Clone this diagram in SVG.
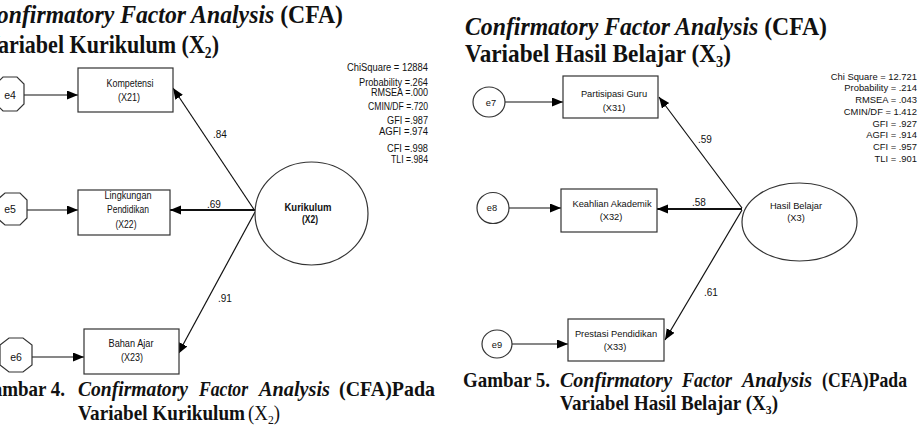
<svg xmlns="http://www.w3.org/2000/svg" width="918" height="438" viewBox="0 0 918 438">
<style>
.title{font-family:"Liberation Serif",serif;font-weight:bold;font-size:26px;fill:#111}
.cap{font-family:"Liberation Serif",serif;font-weight:bold;font-size:21px;fill:#111}
.it{font-style:italic}
.nb{font-weight:normal}
.lt{font-family:"Liberation Sans",sans-serif;font-size:10.5px;fill:#111;text-anchor:middle}
.st{font-family:"Liberation Sans",sans-serif;font-size:10px;fill:#111;text-anchor:end}
.rt{font-family:"Liberation Sans",sans-serif;font-size:9.3px;fill:#111;text-anchor:middle}
.rs{font-family:"Liberation Sans",sans-serif;font-size:9.4px;fill:#111;text-anchor:end}
.coef{font-family:"Liberation Sans",sans-serif;font-size:10px;fill:#111}
.box{fill:#fff;stroke:#333;stroke-width:1.2}
.ln{stroke:#111;stroke-width:1.2;fill:none}
.thk{stroke:#111;stroke-width:2;fill:none}
</style>
<defs>
<marker id="ah" markerUnits="userSpaceOnUse" markerWidth="12" markerHeight="10" refX="11" refY="4.5" orient="auto">
<path d="M0,0 L11,4.5 L0,9 z" fill="#000"/>
</marker>
</defs>

<!-- Titles -->
<g id="title-left">
<text class="title" x="-19" y="23" textLength="362" lengthAdjust="spacingAndGlyphs"><tspan class="it">Confirmatory Factor Analysis</tspan> (CFA)</text>
<text class="title" x="-16" y="53" textLength="235" lengthAdjust="spacingAndGlyphs">Variabel Kurikulum (X<tspan font-size="16" dy="5">2</tspan><tspan dy="-5">)</tspan></text>
</g>
<g id="title-right">
<text class="title" x="465" y="35" textLength="362" lengthAdjust="spacingAndGlyphs"><tspan class="it">Confirmatory Factor Analysis</tspan> (CFA)</text>
<text class="title" x="465" y="62" textLength="266" lengthAdjust="spacingAndGlyphs">Variabel Hasil Belajar (X<tspan font-size="16" dy="5">3</tspan><tspan dy="-5">)</tspan></text>
</g>

<!-- Connectors -->
<g id="connectors">
<line class="ln" x1="24" y1="95" x2="78" y2="95" marker-end="url(#ah)"/>
<line class="ln" x1="27" y1="210" x2="78" y2="210" marker-end="url(#ah)"/>
<line class="ln" x1="32" y1="357" x2="84" y2="357" marker-end="url(#ah)"/>
<line class="ln" x1="255" y1="211" x2="173" y2="88" marker-end="url(#ah)"/>
<line class="thk" x1="255" y1="210" x2="170" y2="210" marker-end="url(#ah)"/>
<line class="ln" x1="255" y1="212" x2="178" y2="354" marker-end="url(#ah)"/>
<line class="ln" x1="505" y1="102" x2="563" y2="102" marker-end="url(#ah)"/>
<line class="ln" x1="509" y1="208" x2="561" y2="208" marker-end="url(#ah)"/>
<line class="ln" x1="512" y1="344" x2="568" y2="344" marker-end="url(#ah)"/>
<line class="ln" x1="742" y1="208" x2="659" y2="97" marker-end="url(#ah)"/>
<line class="thk" x1="742" y1="209" x2="657" y2="209" marker-end="url(#ah)"/>
<line class="ln" x1="742" y1="210" x2="665" y2="340" marker-end="url(#ah)"/>
<text class="coef" x="213" y="138">.84</text>
<text class="coef" x="207" y="208">.69</text>
<text class="coef" x="218" y="302">.91</text>
<text class="coef" x="698" y="143">.59</text>
<text class="coef" x="692" y="206">.58</text>
<text class="coef" x="704" y="296">.61</text>
</g>

<!-- Left nodes -->
<g id="e4">
<polygon class="box" points="3,77 17,77 24,84 24,104 17,111 3,111 -4,104 -4,84"/>
<text class="lt" x="10" y="99">e4</text>
</g>
<g id="e5">
<polygon class="box" points="5,193 20,193 27,200 27,218 20,225 5,225 -3,218 -3,200"/>
<text class="lt" x="10" y="213">e5</text>
</g>
<g id="e6">
<polygon class="box" points="9,338 23,338 32,345 32,365 23,372 9,372 0,365 0,345"/>
<text class="lt" x="16" y="361">e6</text>
</g>
<g id="kompetensi">
<rect class="box" x="78" y="68" width="95" height="44"/>
<text class="lt" x="130" y="87" textLength="47" lengthAdjust="spacingAndGlyphs">Kompetensi</text>
<text class="lt" x="129" y="101" textLength="22" lengthAdjust="spacingAndGlyphs">(X21)</text>
</g>
<g id="lingkungan">
<rect class="box" x="78" y="190" width="92" height="45"/>
<text class="lt" x="128" y="199" textLength="47" lengthAdjust="spacingAndGlyphs">Lingkungan</text>
<text class="lt" x="128" y="213" textLength="42" lengthAdjust="spacingAndGlyphs">Pendidikan</text>
<text class="lt" x="126" y="228" textLength="21" lengthAdjust="spacingAndGlyphs">(X22)</text>
</g>
<g id="bahanajar">
<rect class="box" x="84" y="329" width="95" height="45"/>
<text class="lt" x="131" y="347" textLength="45" lengthAdjust="spacingAndGlyphs">Bahan Ajar</text>
<text class="lt" x="132" y="361" textLength="22" lengthAdjust="spacingAndGlyphs">(X23)</text>
</g>
<g id="kurikulum">
<ellipse class="box" cx="311.5" cy="213.5" rx="56.5" ry="51.5"/>
<text class="lt" x="308" y="211" font-weight="bold" textLength="47" lengthAdjust="spacingAndGlyphs">Kurikulum</text>
<text class="lt" x="310" y="223" font-weight="bold" textLength="16" lengthAdjust="spacingAndGlyphs">(X2)</text>
</g>

<!-- Left stats -->
<g id="stats-left">
<text class="st" x="428" y="71" textLength="81" lengthAdjust="spacingAndGlyphs">ChiSquare = 12884</text>
<text class="st" x="428" y="86" textLength="69" lengthAdjust="spacingAndGlyphs">Probability =.264</text>
<text class="st" x="428" y="96" textLength="57" lengthAdjust="spacingAndGlyphs">RMSEA =.000</text>
<text class="st" x="428" y="110" textLength="60" lengthAdjust="spacingAndGlyphs">CMIN/DF =.720</text>
<text class="st" x="428" y="124" textLength="41" lengthAdjust="spacingAndGlyphs">GFI =.987</text>
<text class="st" x="428" y="135" textLength="49" lengthAdjust="spacingAndGlyphs">AGFI =.974</text>
<text class="st" x="428" y="152" textLength="41" lengthAdjust="spacingAndGlyphs">CFI =.998</text>
<text class="st" x="428" y="163" textLength="37" lengthAdjust="spacingAndGlyphs">TLI =.984</text>
</g>

<!-- Right nodes -->
<g id="e7">
<ellipse class="box" cx="489" cy="102" rx="16" ry="15"/>
<text class="rt" x="491" y="106">e7</text>
</g>
<g id="e8">
<ellipse class="box" cx="493" cy="208" rx="16" ry="15.5"/>
<text class="rt" x="492" y="211">e8</text>
</g>
<g id="e9">
<ellipse class="box" cx="497" cy="344" rx="15" ry="14"/>
<text class="rt" x="497" y="348">e9</text>
</g>
<g id="partisipasi">
<rect class="box" x="563" y="76" width="95" height="42"/>
<text class="rt" x="614" y="97">Partisipasi Guru</text>
<text class="rt" x="614" y="111">(X31)</text>
</g>
<g id="keahlian">
<rect class="box" x="561" y="189" width="96" height="43"/>
<text class="rt" x="612" y="207">Keahlian Akademik</text>
<text class="rt" x="611" y="220">(X32)</text>
</g>
<g id="prestasi">
<rect class="box" x="568" y="319" width="96" height="42"/>
<text class="rt" x="616" y="337">Prestasi Pendidikan</text>
<text class="rt" x="615" y="350">(X33)</text>
</g>
<g id="hasilbelajar">
<ellipse class="box" cx="799.5" cy="222" rx="57.5" ry="39"/>
<text class="rt" x="796" y="209">Hasil Belajar</text>
<text class="rt" x="796" y="221">(X3)</text>
</g>

<!-- Right stats -->
<g id="stats-right">
<text class="rs" x="917" y="80">Chi Square = 12.721</text>
<text class="rs" x="917" y="91">Probability = .214</text>
<text class="rs" x="917" y="103">RMSEA = .043</text>
<text class="rs" x="917" y="115">CMIN/DF = 1.412</text>
<text class="rs" x="917" y="127">GFI = .927</text>
<text class="rs" x="917" y="138">AGFI = .914</text>
<text class="rs" x="917" y="150">CFI = .957</text>
<text class="rs" x="917" y="162">TLI = .901</text>
</g>

<!-- Captions -->
<g id="caption-left">
<text class="cap" x="-22" y="396" textLength="87" lengthAdjust="spacingAndGlyphs">Gambar 4.</text>
<text class="cap it" x="78" y="396" textLength="110" lengthAdjust="spacingAndGlyphs">Confirmatory</text>
<text class="cap it" x="199" y="396" textLength="49" lengthAdjust="spacingAndGlyphs">Factor</text>
<text class="cap it" x="259" y="396" textLength="71" lengthAdjust="spacingAndGlyphs">Analysis</text>
<text class="cap" x="339" y="396" textLength="96" lengthAdjust="spacingAndGlyphs">(CFA)Pada</text>
<text class="cap" x="78" y="420" textLength="167" lengthAdjust="spacingAndGlyphs">Variabel Kurikulum</text>
<text class="cap nb" x="248" y="420" textLength="32" lengthAdjust="spacingAndGlyphs">(X<tspan font-size="13" dy="4">2</tspan><tspan dy="-4">)</tspan></text>
</g>
<g id="caption-right">
<text class="cap" x="463" y="387" textLength="87" lengthAdjust="spacingAndGlyphs">Gambar 5.</text>
<text class="cap it" x="560" y="387" textLength="112" lengthAdjust="spacingAndGlyphs">Confirmatory</text>
<text class="cap it" x="682" y="387" textLength="50" lengthAdjust="spacingAndGlyphs">Factor</text>
<text class="cap it" x="742" y="387" textLength="70" lengthAdjust="spacingAndGlyphs">Analysis</text>
<text class="cap" x="822" y="387" textLength="85" lengthAdjust="spacingAndGlyphs">(CFA)Pada</text>
<text class="cap" x="560" y="410" textLength="218" lengthAdjust="spacingAndGlyphs">Variabel Hasil Belajar (X<tspan font-size="13" dy="4">3</tspan><tspan dy="-4">)</tspan></text>
</g>
</svg>
